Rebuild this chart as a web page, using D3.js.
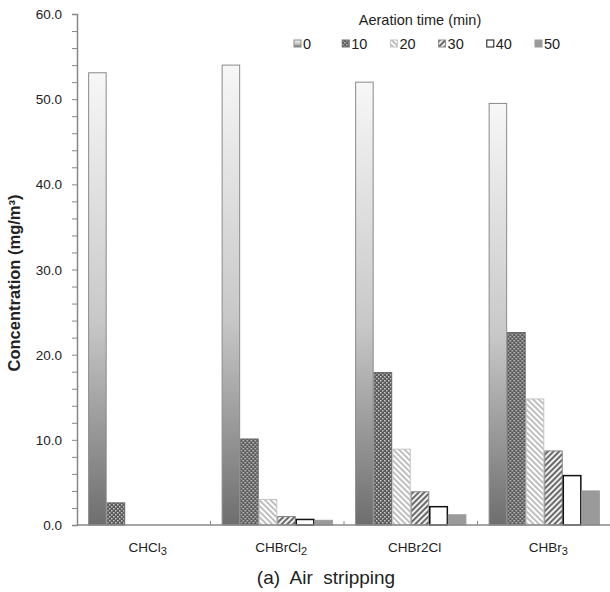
<!DOCTYPE html>
<html>
<head>
<meta charset="utf-8">
<script src="https://cdn.jsdelivr.net/npm/d3@7"></script>
<style>
  body { margin: 0; background: #fff; }
  svg text { font-family: "Liberation Sans", Arial, sans-serif; fill: #222; }
</style>
</head>
<body>
<div id="chart"></div>
<script>
// compounds on the x axis (label parts: [text, isSubscript])
const compounds = ['CHCl3', 'CHBrCl2', 'CHBr2Cl', 'CHBr3'];
const compoundLabels = [
    [['CHCl', false], ['3', true]],
    [['CHBrCl', false], ['2', true]],
    [['CHBr2Cl', false]],
    [['CHBr', false], ['3', true]]
];
// aeration times (series)
const times = ['0', '10', '20', '30', '40', '50'];
// concentration per series, in compound order
const conc0 = [53.1, 54.0, 52.0, 49.5];
const conc10 = [2.6, 10.1, 17.9, 22.6];
const conc20 = [0, 3.0, 8.9, 14.8];
const conc30 = [0, 1.0, 3.9, 8.7];
const conc40 = [0, 0.65, 2.15, 5.8];
const conc50 = [0, 0.55, 1.2, 4.0];
const yTicks = [0, 10, 20, 30, 40, 50, 60];

const series = [conc0, conc10, conc20, conc30, conc40, conc50];

const width = 610, height = 592;
const margin = {top: 14, right: 0, bottom: 67, left: 77};

const svg = d3.select('#chart').append('svg')
    .attr('width', width)
    .attr('height', height);

// fills
const defs = svg.append('defs');
const grad = defs.append('linearGradient')
    .attr('id', 'g0').attr('x1', 0).attr('y1', 0).attr('x2', 0).attr('y2', 1);
grad.append('stop').attr('offset', '0%').attr('stop-color', '#f7f7f7');
grad.append('stop').attr('offset', '55%').attr('stop-color', '#c8c8c8');
grad.append('stop').attr('offset', '100%').attr('stop-color', '#6e6e6e');

const dots = defs.append('pattern').attr('id', 'p10')
    .attr('width', 4).attr('height', 4).attr('patternUnits', 'userSpaceOnUse');
dots.append('rect').attr('width', 4).attr('height', 4).attr('fill', '#5a5a5a');
dots.append('rect').attr('x', 0).attr('y', 0).attr('width', 1.5).attr('height', 1.5).attr('fill', '#c8c8c8');
dots.append('rect').attr('x', 2).attr('y', 2).attr('width', 1.5).attr('height', 1.5).attr('fill', '#c8c8c8');

const light = defs.append('pattern').attr('id', 'p20')
    .attr('width', 4).attr('height', 4).attr('patternUnits', 'userSpaceOnUse')
    .attr('patternTransform', 'rotate(-45)');
light.append('rect').attr('width', 4).attr('height', 4).attr('fill', '#fff');
light.append('rect').attr('width', 1.8).attr('height', 4).attr('fill', '#b8b8b8');

const dark = defs.append('pattern').attr('id', 'p30')
    .attr('width', 4).attr('height', 4).attr('patternUnits', 'userSpaceOnUse')
    .attr('patternTransform', 'rotate(45)');
dark.append('rect').attr('width', 4).attr('height', 4).attr('fill', '#f0f0f0');
dark.append('rect').attr('width', 2).attr('height', 4).attr('fill', '#6a6a6a');

const fills = ['url(#g0)', 'url(#p10)', 'url(#p20)', 'url(#p30)', '#fff', '#9a9a9a'];
const strokes = ['#8a8a8a', '#6a6a6a', '#c4c4c4', '#8a8a8a', '#111', '#9a9a9a'];

// scales
const x0 = d3.scaleBand()
    .domain(compounds)
    .range([margin.left, width + 1])
    .paddingInner(0)
    .paddingOuter(0);

const x1 = d3.scaleBand()
    .domain(times)
    .range([0, x0.bandwidth()])
    .paddingOuter(0.6)
    .paddingInner(0);

const y = d3.scaleLinear()
    .domain([0, 60])
    .range([height - margin.bottom, margin.top]);

// bars
const groups = svg.selectAll('.group')
    .data(compounds)
    .enter()
    .append('g')
    .attr('class', 'group')
    .attr('transform', d => `translate(${x0(d)},0)`);

groups.selectAll('rect')
    .data((d, ci) => times.map((t, si) => ({t, si, v: series[si][ci]})).filter(e => e.v > 0))
    .enter()
    .append('rect')
    .attr('x', d => x1(d.t) + 0.5)
    .attr('y', d => y(d.v))
    .attr('width', x1.bandwidth() - 1)
    .attr('height', d => y(0) - y(d.v))
    .attr('fill', d => fills[d.si])
    .attr('stroke', d => strokes[d.si])
    .attr('stroke-width', d => d.si === 4 ? 1.5 : 1);

// y axis with minor ticks
const yAxis = svg.append('g')
    .attr('transform', `translate(${margin.left},0)`)
    .call(d3.axisLeft(y).tickValues(d3.range(0, 61, 2)).tickSize(5).tickFormat(''));
yAxis.selectAll('line').attr('stroke', '#888');
yAxis.select('.domain').attr('stroke', '#888').attr('stroke-width', 1.5);

svg.append('g').selectAll('text')
    .data(yTicks)
    .enter()
    .append('text')
    .attr('x', 62)
    .attr('y', d => y(d) + 5)
    .attr('text-anchor', 'end')
    .attr('font-size', 13.5)
    .text(d => d.toFixed(1));

// x axis
svg.append('line')
    .attr('x1', margin.left).attr('x2', width)
    .attr('y1', y(0)).attr('y2', y(0))
    .attr('stroke', '#888').attr('stroke-width', 1.5);

svg.append('g').selectAll('line')
    .data(compounds.slice(1))
    .enter()
    .append('line')
    .attr('x1', d => x0(d)).attr('x2', d => x0(d))
    .attr('y1', y(0)).attr('y2', y(0) - 4)
    .attr('stroke', '#888');

const xl = svg.append('g').selectAll('text')
    .data(compounds)
    .enter()
    .append('text')
    .attr('x', d => x0(d) + x0.bandwidth() / 2 + 4)
    .attr('y', 552)
    .attr('text-anchor', 'middle')
    .attr('font-size', 13.5);
xl.each(function(d, i) {
    const t = d3.select(this);
    compoundLabels[i].forEach(p => {
        t.append('tspan')
            .attr('dy', p[1] ? 3 : 0)
            .attr('font-size', p[1] ? 11 : 13.5)
            .text(p[0]);
    });
});

// y label
svg.append('text')
    .attr('transform', `translate(20,283) rotate(-90)`)
    .attr('text-anchor', 'middle')
    .attr('font-size', 16.5)
    .attr('font-weight', 'bold')
    .text('Concentration (mg/m³)');

// legend
svg.append('text')
    .attr('x', 420)
    .attr('y', 25)
    .attr('text-anchor', 'middle')
    .attr('font-size', 14.5)
    .text('Aeration time (min)');

const legend = svg.append('g').selectAll('g')
    .data(times)
    .enter()
    .append('g')
    .attr('transform', (d, i) => `translate(${294 + i * 48.2},40)`);
legend.append('rect')
    .attr('width', 7).attr('height', 7)
    .attr('fill', (d, i) => fills[i])
    .attr('stroke', (d, i) => strokes[i]);
legend.append('text')
    .attr('x', 9).attr('y', 8.5)
    .attr('font-size', 14.5)
    .text(d => d);

// caption
svg.append('text')
    .attr('x', 326)
    .attr('y', 584)
    .attr('text-anchor', 'middle')
    .attr('font-size', 19)
    .attr('xml:space', 'preserve')
    .text('(a)  Air  stripping');
</script>
</body>
</html>
